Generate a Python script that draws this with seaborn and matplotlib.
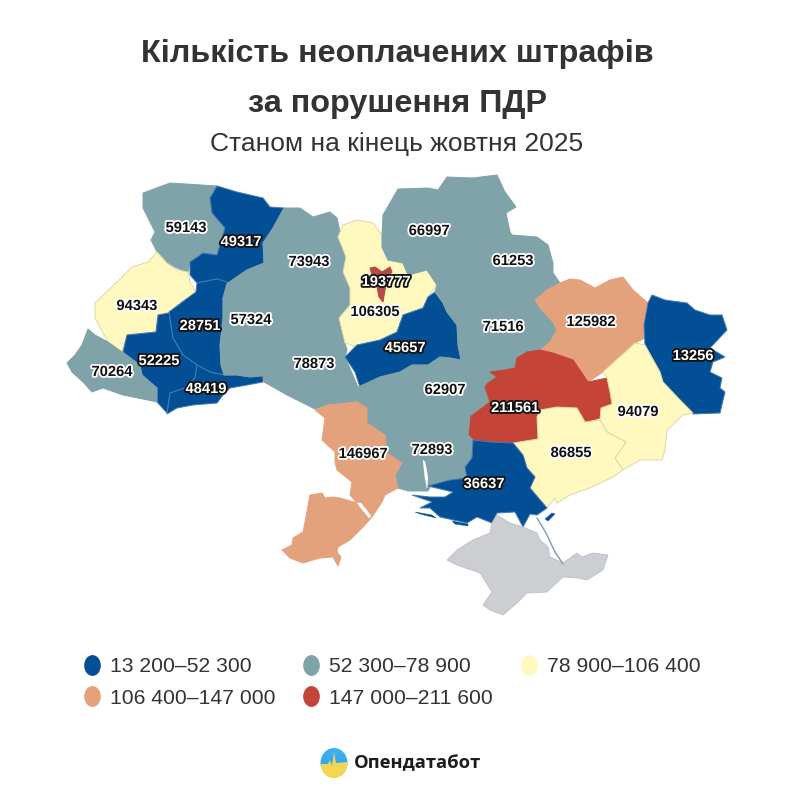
import numpy as np
import pandas as pd
import matplotlib.pyplot as plt
import matplotlib.patheffects as pe
from matplotlib.patches import Ellipse
from matplotlib.path import Path
from matplotlib.transforms import Affine2D
import seaborn as sns

regions = ['Volyn', 'Rivne', 'Lviv', 'Ternopil', 'Frankivsk', 'Zakarpattia', 'Chernivtsi',
           'Khmelnytskyi', 'Zhytomyr', 'Vinnytsia', 'Kyiv obl', 'Kyiv', 'Cherkasy',
           'Chernihiv', 'Sumy', 'Poltava', 'Kharkiv', 'Luhansk', 'Kirovohrad',
           'Dnipro', 'Donetsk', 'Zaporizhzhia', 'Mykolaiv', 'Odesa', 'Kherson']
values = [59143, 49317, 94343, 28751, 52225, 70264, 48419,
          57324, 73943, 78873, 106305, 193777, 45657,
          66997, 61253, 71516, 125982, 13256, 62907,
          211561, 94079, 86855, 72893, 146967, 36637]

bin_edges = [13200, 52300, 78900, 106400, 147000, 211600]
bin_labels = ['13 200–52 300', '52 300–78 900', '78 900–106 400', '106 400–147 000', '147 000–211 600']
bin_colors = ['#034f96', '#7fa3a8', '#fff9c0', '#e3a27c', '#c44537']

# where the numbers sit, in picture pixels
label_x = [186, 241, 137, 200, 159, 112, 206, 251, 309, 314, 375, 386, 405,
           429, 513, 503, 591, 693, 445, 515, 638, 571, 432, 363, 484]
label_y = [228, 242, 306, 326, 361, 372, 389, 320, 262, 364, 312, 282, 348,
           231, 261, 327, 322, 356, 390, 408, 412, 453, 450, 454, 484]

# outlines
shapes = {
    'Volyn': [(143,193),(170,183),(217,186),(210,198),(212,213),(225,228),(217,255),(203,253),(190,262),(188,272),(177,268),(167,263),(157,252),(151,240),(155,232),(143,208)],
    'Rivne': [(217,186),(237,192),(263,198),(270,207),(284,208),(273,228),(263,243),(264,263),(247,270),(228,283),(217,279),(197,283),(190,275),(190,262),(203,253),(217,255),(225,228),(212,213),(210,198)],
    'Lviv': [(157,252),(167,263),(177,270),(188,272),(190,282),(196,292),(185,300),(170,312),(158,315),(156,332),(127,335),(122,352),(108,342),(95,318),(95,303),(117,282),(132,267),(148,262)],
    'Ternopil': [(197,283),(217,279),(227,282),(223,298),(223,318),(220,345),(221,365),(224,375),(210,372),(197,365),(183,355),(173,338),(169,312),(185,300),(196,292)],
    'Frankivsk': [(158,315),(169,313),(173,338),(183,355),(197,365),(195,378),(185,388),(170,393),(167,413),(157,402),(157,388),(142,375),(140,365),(123,352),(127,335),(156,332)],
    'Zakarpattia': [(88,329),(95,335),(108,342),(122,352),(140,365),(142,375),(157,388),(157,402),(143,399),(123,395),(103,388),(92,392),(83,382),(72,372),(67,363),(75,355),(82,345)],
    'Chernivtsi': [(197,365),(210,372),(224,375),(237,375),(250,377),(263,374),(263,382),(247,385),(230,388),(223,395),(217,403),(193,405),(177,408),(167,414),(170,393),(185,388),(195,378)],
    'Khmelnytskyi': [(228,283),(247,270),(264,263),(273,288),(277,308),(273,332),(268,355),(263,376),(250,377),(237,375),(224,375),(221,365),(220,345),(223,318),(223,298)],
    'Zhytomyr': [(284,208),(300,208),(313,217),(330,212),(337,218),(340,232),(338,237),(346,257),(343,272),(350,288),(350,305),(339,318),(345,343),(347,350),(310,335),(277,308),(273,288),(264,263),(263,243),(273,228)],
    'Vinnytsia': [(277,308),(310,335),(347,350),(345,357),(358,387),(357,402),(347,403),(327,405),(315,409),(307,405),(287,395),(264,382),(263,376),(268,355),(273,332)],
    'Kyiv obl': [(338,237),(343,225),(357,220),(373,223),(382,235),(382,247),(388,260),(403,263),(408,275),(427,270),(437,285),(428,297),(423,308),(403,315),(397,332),(380,340),(357,347),(345,343),(339,318),(350,305),(350,288),(343,272),(346,257)],
    'Kyiv': [(370,268),(375,267),(382,272),(390,267),(392,272),(387,278),(385,290),(383,302),(379,297),(377,287),(372,275)],
    'Cherkasy': [(435,292),(443,303),(447,312),(457,325),(458,345),(461,360),(450,358),(440,357),(428,365),(412,365),(400,372),(380,377),(360,387),(355,372),(345,357),(357,345),(380,340),(397,332),(403,315),(423,308),(428,297)],
    'Chernihiv': [(382,235),(383,215),(398,189),(428,188),(438,190),(447,177),(473,178),(497,175),(505,192),(516,207),(506,213),(510,232),(480,245),(467,262),(455,270),(437,285),(427,270),(408,275),(403,263),(388,260),(382,247)],
    'Sumy': [(510,232),(512,235),(537,237),(548,245),(553,263),(553,273),(560,283),(547,290),(535,300),(500,295),(470,280),(455,270),(467,262),(480,245)],
    'Poltava': [(455,270),(470,280),(500,295),(535,300),(540,308),(553,322),(557,330),(550,342),(540,350),(527,352),(517,358),(515,368),(505,370),(490,372),(497,377),(488,383),(470,385),(461,360),(458,345),(457,325),(447,312),(443,303),(435,292),(437,285)],
    'Kharkiv': [(560,283),(570,279),(580,280),(595,288),(610,280),(623,277),(633,290),(648,303),(644,325),(645,338),(635,343),(603,372),(588,382),(573,360),(553,353),(540,350),(550,342),(557,330),(553,322),(540,308),(535,300),(547,290)],
    'Luhansk': [(652,295),(665,300),(687,303),(695,310),(710,315),(722,315),(727,330),(710,348),(725,357),(713,362),(710,372),(722,378),(720,388),(725,392),(720,413),(693,414),(680,400),(663,382),(660,372),(645,345),(644,325),(648,303)],
    'Kirovohrad': [(358,387),(380,377),(400,372),(412,365),(428,365),(440,357),(450,358),(461,360),(470,385),(488,383),(485,387),(490,402),(470,417),(420,415),(390,405),(367,408),(357,402)],
    'Dnipro': [(540,350),(553,353),(573,360),(588,382),(607,378),(610,392),(612,404),(601,408),(600,418),(585,422),(577,408),(557,407),(540,410),(537,417),(538,439),(513,443),(490,442),(473,440),(468,435),(470,417),(490,402),(485,387),(488,383),(497,377),(490,372),(505,370),(515,368),(517,358),(527,352)],
    'Donetsk': [(603,372),(635,343),(645,345),(660,372),(663,382),(680,400),(693,413),(683,415),(667,430),(665,450),(662,460),(640,460),(623,470),(615,458),(626,442),(607,432),(600,420),(601,408),(612,404),(610,392),(607,378)],
    'Zaporizhzhia': [(513,443),(538,439),(537,417),(540,410),(557,407),(577,408),(585,422),(600,420),(607,432),(626,442),(615,458),(623,470),(613,477),(592,487),(570,495),(557,503),(555,498),(547,508),(530,488),(535,477),(527,468),(523,455)],
    'Mykolaiv': [(367,408),(390,405),(420,415),(470,417),(468,435),(473,440),(472,458),(465,467),(467,478),(450,480),(431,486),(428,491),(408,491),(398,488),(395,475),(402,463),(387,453),(385,435),(367,423)],
    'Odesa': [(315,410),(327,405),(347,403),(357,402),(367,408),(367,423),(385,435),(387,453),(402,463),(395,475),(398,488),(385,495),(382,502),(372,517),(363,527),(350,540),(338,547),(337,552),(341,557),(338,566),(333,557),(320,558),(303,563),(290,558),(282,550),(292,545),(293,538),(303,532),(305,522),(310,495),(322,493),(325,498),(333,497),(340,498),(357,503),(350,495),(352,482),(337,470),(335,462),(335,452),(322,440),(325,418)],
    'Kherson': [(473,440),(490,442),(513,443),(523,455),(527,468),(535,477),(530,488),(547,508),(537,515),(530,514),(523,527),(515,512),(497,513),(492,523),(477,517),(467,523),(440,517),(430,508),(420,508),(432,502),(412,495),(430,497),(445,497),(453,492),(428,486),(450,480),(467,478),(465,467),(472,458)],
}
crimea = [(492,523),(497,515),(510,523),(523,527),(537,533),(540,540),(548,547),(550,557),(563,563),(577,553),(582,557),(593,553),(608,555),(603,570),(587,580),(578,578),(563,577),(547,592),(527,593),(517,603),(503,615),(490,610),(483,605),(492,592),(480,573),(457,565),(447,560),(457,550),(473,540),(490,533)]
# small bits of water and sand spits
estuaries = [[(357,503),(361,503),(371,516),(369,518)], [(423,460),(425,462),(428,478),(427,488),(425,478)]]
spits = [[(415,512),(432,515),(436,518),(420,514)], [(452,521),(468,524),(468,526),(455,524)], [(545,519),(552,513),(555,514),(548,521)]]

df = pd.DataFrame({'region': regions, 'value': values, 'x': label_x, 'y': label_y})
df['bin'] = pd.cut(df['value'], bin_edges, labels=bin_labels).astype(str)
palette = dict(zip(bin_labels, bin_colors))

sns.set_theme(style='white')
plt.rcParams['font.family'] = ['Liberation Sans', 'DejaVu Sans']

fig, ax = plt.subplots(figsize=(7.94, 7.94), dpi=100)
ax.set_position([0, 0, 1, 1])

oval = Path.unit_circle().transformed(Affine2D().scale(0.8, 1))
# points stay under the regions, they are here for the legend
sns.scatterplot(data=df, x='x', y='y', hue='bin', palette=palette, s=225, marker=oval, linewidth=0,
                hue_order=[bin_labels[0], bin_labels[3], bin_labels[1], bin_labels[4], bin_labels[2]],
                ax=ax, zorder=0)


def lighter(color, amount=0.3):
    rgb = np.array(plt.matplotlib.colors.to_rgb(color))
    return tuple(rgb + (1 - rgb) * amount)


for _, row in df.iterrows():
    pts = np.array(shapes[row['region']])
    color = palette[row['bin']]
    edge = color
    if row['bin'] == bin_labels[2]:
        edge = '#dcd8a8'
    elif row['bin'] == bin_labels[0]:
        edge = lighter(color, 0.25)
    ax.fill(pts[:, 0], pts[:, 1], facecolor=color, edgecolor=edge, linewidth=0.7, zorder=2)
    if row['region'] == 'Kyiv':
        ax.fill(pts[:, 0], pts[:, 1], facecolor='#b54a48', edgecolor='none', zorder=3)

pts = np.array(crimea)
ax.fill(pts[:, 0], pts[:, 1], facecolor='#ccced2', edgecolor='#b9c0cc', linewidth=0.6, zorder=2)
for water in estuaries:
    pts = np.array(water)
    ax.fill(pts[:, 0], pts[:, 1], color='white', linewidth=0.3, zorder=3)
for spit in spits:
    pts = np.array(spit)
    ax.fill(pts[:, 0], pts[:, 1], color=bin_colors[0], linewidth=0.3, zorder=3)
ax.plot([537, 546, 555, 563], [518, 533, 552, 564], color='#7e97b8', lw=1.0, zorder=3)

for _, row in df.iterrows():
    on_dark = row['bin'] in (bin_labels[0], bin_labels[4])
    fg, halo = ('white', '#111111') if on_dark else ('#111111', 'white')
    ax.text(row['x'], row['y'], str(row['value']), ha='center', va='center', fontsize=10.6,
            fontweight='bold', color=fg, zorder=5,
            path_effects=[pe.withStroke(linewidth=2.6, foreground=halo)])

ax.text(397, 54, 'Кількість неоплачених штрафів', ha='center', va='center', fontsize=23.3,
        fontweight='bold', color='#333333')
ax.text(397, 104, 'за порушення ПДР', ha='center', va='center', fontsize=23.3,
        fontweight='bold', color='#333333')
ax.text(397, 144, 'Станом на кінець жовтня 2025', ha='center', va='center', fontsize=19,
        color='#333333')

sns.move_legend(ax, loc='upper left', bbox_to_anchor=(79 / 794, 1 - 657 / 794), ncol=3, title=None,
                frameon=False, fontsize=15.2, labelcolor='#333333', handletextpad=0.25,
                columnspacing=1.1, labelspacing=0.6, borderpad=0, borderaxespad=0, handlelength=1.2)

# logo
logo = Ellipse((334, 763), 27, 30, transform=ax.transData, facecolor='none', edgecolor='none')
ax.add_patch(logo)
gradient = np.linspace(1, 0, 50).reshape(-1, 1)
sky = ax.imshow(gradient, extent=(320, 348, 778, 748), aspect='auto', zorder=3,
                cmap=plt.matplotlib.colors.LinearSegmentedColormap.from_list('sky', ['#f5d95a', '#35a8f0', '#3fb2f2']))
sky.set_clip_path(logo)
ground = ax.fill([320, 328, 330, 332, 334, 336, 348, 348, 320],
                 [764, 764, 760, 766, 752, 763, 762, 778, 778], color='#f6d552', zorder=4, linewidth=0)[0]
ground.set_clip_path(logo)
ax.text(354, 763, 'Опендатабот', ha='left', va='center', fontsize=13.2, fontweight='bold',
        color='#1c1c1c', family=['Open Sans', 'DejaVu Sans'], zorder=5)

ax.set_xlim(0, 794)
ax.set_ylim(794, 0)
ax.set_xlabel('')
ax.set_ylabel('')
ax.axis('off')
fig.savefig('out.png', dpi=100, facecolor='white')
